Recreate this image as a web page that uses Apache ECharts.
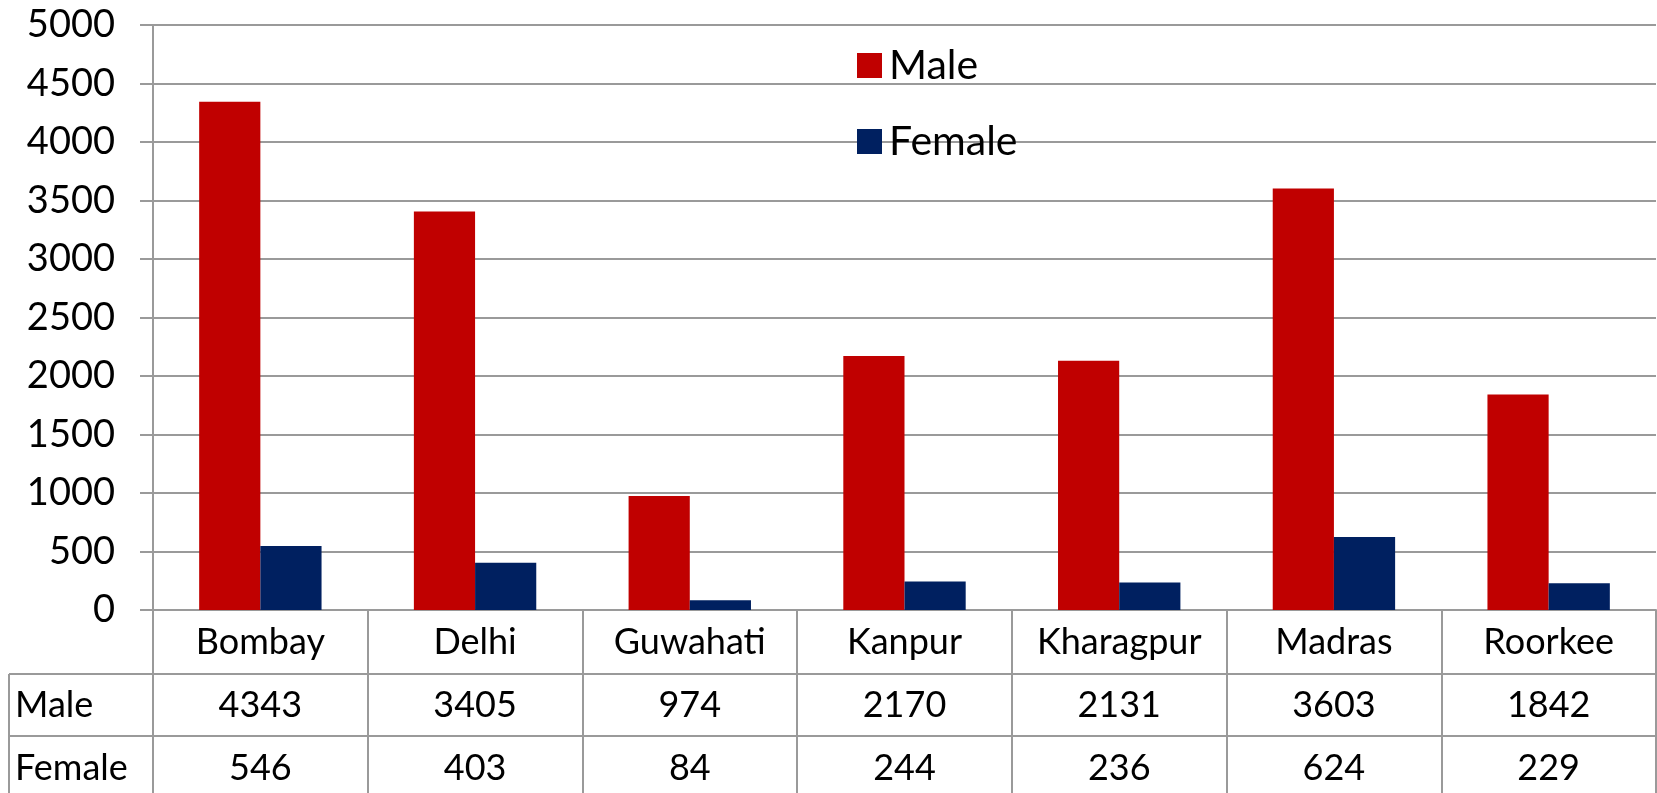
<!DOCTYPE html>
<html>
<head>
<meta charset="utf-8">
<title>IIT Male / Female</title>
<script src="https://cdn.jsdelivr.net/npm/echarts@6/dist/echarts.min.js"></script>
<style>
html, body { margin: 0; padding: 0; background: #fff; }
#chart { width: 1657px; height: 793px; }
</style>
</head>
<body>
<div id="chart"></div>
<script>
// data
var institutes = ['Bombay', 'Delhi', 'Guwahati', 'Kanpur', 'Kharagpur', 'Madras', 'Roorkee'];
var maleCounts = [4343, 3405, 974, 2170, 2131, 3603, 1842];
var femaleCounts = [546, 403, 84, 244, 236, 624, 229];
var yTicks = [0, 500, 1000, 1500, 2000, 2500, 3000, 3500, 4000, 4500, 5000];

var FONT = 'Lato, "Open Sans", sans-serif';
var LINE = '#9a9a9a';
var rowNames = ['Male', 'Female'];

var chart = echarts.init(document.getElementById('chart'));

// 表格行: 额外的x轴只用来显示数值
function tableAxis (values, offset) {
	return {
		type: 'category',
		data: institutes,
		position: 'bottom',
		offset: offset,
		axisLine: { show: false },
		axisTick: { show: false },
		splitLine: { show: false },
		axisLabel: {
			interval: 0,
			margin: 32,
			verticalAlign: 'middle',
			fontFamily: FONT,
			fontSize: 36,
			color: '#000',
			formatter: function (v, i) { return String(values[i]); }
		}
	};
}

var option = {
	animation: false,
	color: ['#C00000', '#002060'],
	grid: { left: 153, right: 1, top: 25, bottom: 183, containLabel: false },
	legend: {
		data: ['Male', 'Female'],
		orient: 'vertical',
		left: 852,
		top: 40,
		itemWidth: 25,
		itemHeight: 25,
		itemGap: 35,
		icon: 'rect',
		textStyle: { fontFamily: FONT, fontSize: 41, color: '#000', lineHeight: 40, padding: [0, 0, 0, 2] }
	},
	xAxis: [
		{
			type: 'category',
			data: institutes,
			boundaryGap: true,
			axisLine: { show: true, lineStyle: { color: LINE, width: 2 } },
			axisTick: { show: true, interval: 0, inside: false, length: 190, lineStyle: { color: LINE, width: 2 } },
			axisLabel: {
				interval: 0,
				margin: 32,
				verticalAlign: 'middle',
				fontFamily: FONT,
				fontSize: 36,
				color: '#000'
			}
		},
		tableAxis(maleCounts, 63),
		tableAxis(femaleCounts, 126)
	],
	yAxis: {
		type: 'value',
		min: yTicks[0],
		max: yTicks[yTicks.length - 1],
		interval: 500,
		axisLine: { show: true, lineStyle: { color: LINE, width: 2 } },
		axisTick: { show: true, length: 13, lineStyle: { color: LINE, width: 2 } },
		axisLabel: {
			margin: 38,
			fontFamily: FONT,
			fontSize: 38,
			color: '#000',
			formatter: function (v) { return String(v); }
		},
		splitLine: { show: true, lineStyle: { color: LINE, width: 2 } }
	},
	series: [
		{ name: 'Male', type: 'bar', data: maleCounts, barGap: '0%', barCategoryGap: '43%' },
		{ name: 'Female', type: 'bar', data: femaleCounts, barGap: '0%', barCategoryGap: '43%' }
	]
};
chart.setOption(option);

// 表格的横线、左列
var yMaleTop = 674, yFemaleTop = 736, tableLeft = 9, W = 1657, H = 793;
var graphics = [
	{ type: 'line', shape: { x1: tableLeft, y1: yMaleTop, x2: W, y2: yMaleTop }, style: { stroke: LINE, lineWidth: 2 } },
	{ type: 'line', shape: { x1: tableLeft, y1: yFemaleTop, x2: W, y2: yFemaleTop }, style: { stroke: LINE, lineWidth: 2 } },
	{ type: 'line', shape: { x1: tableLeft, y1: yMaleTop, x2: tableLeft, y2: H }, style: { stroke: LINE, lineWidth: 2 } }
];
rowNames.forEach(function (name, i) {
	graphics.push({
		type: 'text',
		x: 15,
		y: (i === 0 ? (yMaleTop + yFemaleTop) / 2 : yFemaleTop + 32),
		style: { text: name, fontFamily: FONT, fontSize: 36, fill: '#000', verticalAlign: 'middle', align: 'left' }
	});
});
chart.setOption({ graphic: graphics });
</script>
</body>
</html>
